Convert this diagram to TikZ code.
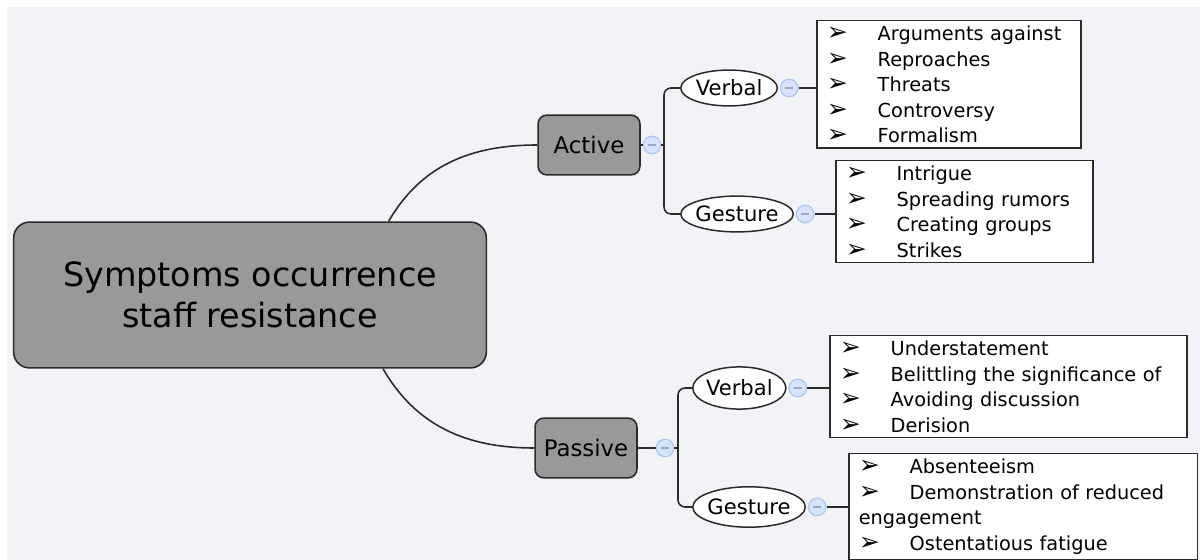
\documentclass[tikz,border=0pt]{standalone}
\usepackage{fontspec}
\setmainfont{DejaVu Sans}
\usetikzlibrary{shapes.geometric,positioning}
\definecolor{bgpage}{HTML}{F2F3F7}
\definecolor{topicgray}{HTML}{999999}
\definecolor{linegray}{HTML}{2B2B2B}
\definecolor{foldfill}{HTML}{D6E3FC}
\definecolor{folddraw}{HTML}{AFC6F2}
\definecolor{foldminus}{HTML}{9DA8BC}
\newcommand{\itm}[1]{\mbox{\makebox[29pt][l]{\scalebox{1.3}{➢}}#1}}

\begin{document}
\begin{tikzpicture}[x=0.02cm,y=-0.02cm,
  topic/.style={draw=linegray,fill=topicgray,rounded corners=5pt,line width=0.9pt,align=center,inner sep=0pt},
  sub/.style={draw=linegray,fill=white,ellipse,line width=0.85pt,inner xsep=-1pt,inner ysep=0pt,font=\fontsize{12}{14}\selectfont,anchor=west},
  listbox/.style={draw=linegray,fill=white,line width=0.85pt,align=left,inner xsep=5.7pt,inner ysep=3pt,font=\fontsize{11}{14.5}\selectfont,anchor=north west},
  fold/.style={circle,draw=folddraw,fill=foldfill,minimum size=10pt,inner sep=0pt,line width=0.7pt,
    path picture={\draw[foldminus,line width=1pt] (path picture bounding box.center) ++(-2.2pt,0) -- ++(4.4pt,0);}},
  link/.style={draw=linegray,line width=0.9pt}]
\useasboundingbox (0,0) rectangle (1200,560);
\fill[bgpage] (7,7) rectangle (1200,560);

\node[topic,rounded corners=9pt,minimum width=269pt,minimum height=83pt,font=\fontsize{19}{23}\selectfont] (root) at (250,295) {Symptoms occurrence\\staff resistance};
\node[topic,minimum width=58pt,minimum height=34pt,font=\fontsize{13}{15}\selectfont] (act) at (589,145) {Active};
\node[topic,minimum width=58pt,minimum height=34pt,font=\fontsize{13}{15}\selectfont] (pas) at (586,448) {Passive};
\node[fold] (fa) at (652,145) {};
\node[fold] (fp) at (665,448) {};

\node[sub,minimum width=55pt,minimum height=20.4pt] (av) at (680,88) {Verbal};
\node[sub,minimum width=64pt,minimum height=20.4pt] (ag) at (680,214) {Gesture};
\node[sub,minimum width=53pt,minimum height=24pt] (pv) at (692,388) {Verbal};
\node[sub,minimum width=64pt,minimum height=23pt] (pg) at (692,507) {Gesture};
\node[fold,right=1pt of av] (fav) {};
\node[fold,right=1pt of ag] (fag) {};
\node[fold,right=1pt of pv] (fpv) {};
\node[fold,right=1pt of pg] (fpg) {};

\node[listbox,text width=139pt] (avlist) at (816,20) {\itm{Arguments against}\\\itm{Reproaches}\\\itm{Threats}\\\itm{Controversy}\\\itm{Formalism}};
\node[listbox,text width=135pt] (aglist) at (835,160) {\itm{Intrigue}\\\itm{Spreading rumors}\\\itm{Creating groups}\\\itm{Strikes}};
\node[listbox,text width=192pt] (pvlist) at (829,335) {\itm{Understatement}\\\itm{Belittling the significance of}\\\itm{Avoiding discussion}\\\itm{Derision}};
\node[listbox,text width=187pt] (pglist) at (848,453) {\itm{Absenteeism}\\\itm{Demonstration of reduced}\\engagement\\\itm{Ostentatious fatigue}};

\draw[link] (root.28) to[out=60,in=180] (act.west);
\draw[link] (root.-29) to[out=-60,in=180] (pas.west);
\draw[link] (act.east) -- (fa.west);
\draw[link] (fa.east) -- ++(3,0);
\draw[link,rounded corners=4pt] (av.west) -- ++(-16,0) |- (ag.west);
\draw[link] (pas.east) -- (fp.west);
\draw[link] (fp.east) -- ++(4,0);
\draw[link,rounded corners=4pt] (pv.west) -- ++(-14,0) |- (pg.west);
\draw[link] (fav.east) -- (fav.east -| avlist.west);
\draw[link] (fag.east) -- (fag.east -| aglist.west);
\draw[link] (fpv.east) -- (fpv.east -| pvlist.west);
\draw[link] (fpg.east) -- (fpg.east -| pglist.west);
\end{tikzpicture}
\end{document}
